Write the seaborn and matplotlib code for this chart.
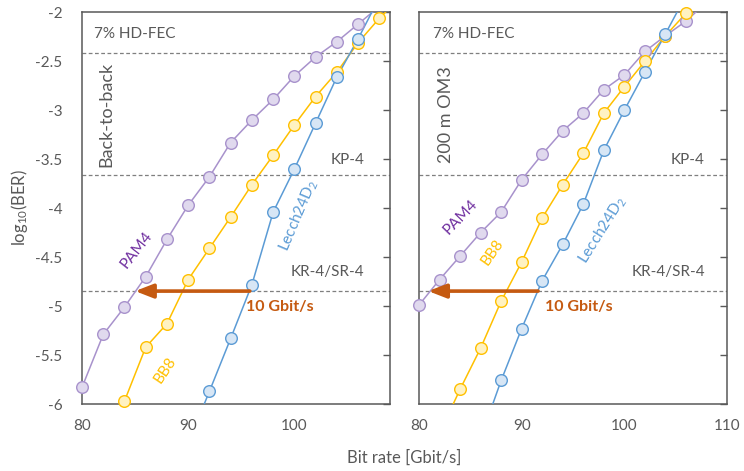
import numpy as np
import pandas as pd
import matplotlib
matplotlib.use("Agg")
import matplotlib.pyplot as plt
import seaborn as sns

# ---------------- data ----------------
rates_b2b = [80, 82, 84, 86, 88, 90, 92, 94, 96, 98, 100, 102, 104, 106, 108, 110]
pam4_b2b = [-5.83, -5.29, -5.01, -4.70, -4.32, -3.97, -3.68, -3.33, -3.10, -2.89, -2.65, -2.456, -2.30, -2.12, -1.94, None]
bb8_b2b = [None, None, -5.97, -5.42, -5.18, -4.73, -4.41, -4.09, -3.76, -3.46, -3.15, -2.86, -2.61, -2.31, -2.06, -1.85]
lecch_b2b = [None, None, None, None, None, -6.40, -5.87, -5.33, -4.78, -4.04, -3.60, -3.13, -2.66, -2.27, -1.85, None]

rates_om3 = [80, 82, 84, 86, 88, 90, 92, 94, 96, 98, 100, 102, 104, 106, 108]
pam4_om3 = [-4.99, -4.73, -4.49, -4.25, -4.04, -3.71, -3.45, -3.21, -3.03, -2.79, -2.64, -2.40, -2.24, -2.09, -1.90]
bb8_om3 = [None, -6.30, -5.85, -5.43, -4.95, -4.55, -4.10, -3.76, -3.44, -3.03, -2.76, -2.50, -2.24, -2.01, None]
lecch_om3 = [None, None, None, -6.35, -5.76, -5.23, -4.74, -4.37, -3.96, -3.41, -3.00, -2.61, -2.22, -1.83, None]

fec_levels = [-2.415, -3.657, -4.847]
fec_names = ["7% HD-FEC", "KP-4", "KR-4/SR-4"]

panel_titles = ["Back-to-back", "200 m OM3"]
xlims = [(80, 109), (80, 110)]
ylim = (-6, -2)
xticks = [80, 90, 100, 110]
yticks = [-6, -5.5, -5, -4.5, -4, -3.5, -3, -2.5, -2]

# arrow start / end (Gbit/s) on KR-4 level
arrow_start = [95.8, 91.6]
arrow_end = [85.0, 80.9]

# ---------------- style ----------------
sns.set_theme(style="white")
plt.rcParams["font.family"] = ["Lato", "DejaVu Sans"]
plt.rcParams["axes.unicode_minus"] = False
plt.rcParams["mathtext.default"] = "regular"

GRAY = "#595959"
series_style = {
    "PAM4": dict(line="#a892cc", face="#e0d9ee", edge="#a892cc", text="#7030a0"),
    "BB8": dict(line="#ffc000", face="#fff2c2", edge="#ffc000", text="#ffc000"),
    "Lecch": dict(line="#5b9bd5", face="#d7e6f5", edge="#5b9bd5", text="#5b9bd5"),
}
ORANGE = "#c55a11"

fig = plt.figure(figsize=(7.44, 4.71), dpi=100)
ax_pos = [
    [82 / 744, 1 - 404 / 471, 308 / 744, 391.7 / 471],
    [419 / 744, 1 - 404 / 471, 308 / 744, 391.7 / 471],
]

datasets = [
    (rates_b2b, {"PAM4": pam4_b2b, "BB8": bb8_b2b, "Lecch": lecch_b2b}),
    (rates_om3, {"PAM4": pam4_om3, "BB8": bb8_om3, "Lecch": lecch_om3}),
]

# curve label placement (x, y, rotation)
label_pos = [
    {"PAM4": (85.1, -4.43, 52), "BB8": (87.8, -5.65, 56), "Lecch": (100.4, -4.08, 67)},
    {"PAM4": (84.0, -4.09, 46), "BB8": (87.16, -4.45, 55), "Lecch": (97.9, -4.22, 58)},
]
label_text = {"PAM4": "PAM4", "BB8": "BB8", "Lecch": "Lecch24D$_2$"}

axes = []
for i, (rates, series) in enumerate(datasets):
    ax = fig.add_axes(ax_pos[i])
    axes.append(ax)
    xlo, xhi = xlims[i]
    for name, vals in series.items():
        st = series_style[name]
        df = pd.DataFrame({"x": rates, "y": vals}).dropna()
        sns.lineplot(data=df, x="x", y="y", ax=ax, color=st["line"], lw=1.1,
                     sort=False, estimator=None, zorder=3)
        vis = df[(df["y"] >= ylim[0] - 0.03) & (df["y"] <= ylim[1] + 0.03) &
                 (df["x"] >= xlo) & (df["x"] <= xhi)]
        sns.scatterplot(data=vis, x="x", y="y", ax=ax, s=70, color=st["face"],
                        edgecolor=st["edge"], linewidth=1.0, zorder=4, clip_on=False)
        lx, ly, rot = label_pos[i][name]
        ax.text(lx, ly, label_text[name], color=st["text"], fontsize=11,
                rotation=rot, ha="center", va="center", rotation_mode="anchor")

    for lev in fec_levels:
        ax.axhline(lev, color="#7f7f7f", lw=0.9, ls=(0, (3, 2)), zorder=2)

    ax.set_xlim(*xlims[i])
    ax.set_ylim(*ylim)
    ax.set_xticks(xticks[:3] if i == 0 else xticks)
    ax.set_yticks(yticks)
    ax.set_xlabel("")
    ax.set_ylabel("")
    ax.tick_params(axis="both", direction="in", length=5, width=1, color=GRAY,
                   labelcolor=GRAY, labelsize=11)
    ax.tick_params(axis="y", right=True, pad=14)
    ax.tick_params(axis="x", pad=11)
    ax.yaxis.set_major_formatter(matplotlib.ticker.FuncFormatter(lambda v, p: f"{v:g}"))
    if i == 1:
        ax.tick_params(axis="y", labelleft=False)
    for sp in ax.spines.values():
        sp.set_color(GRAY)
        sp.set_linewidth(1.1)
        sp.set_visible(True)

    # FEC labels
    ax.text(xlo + 1.1 if i == 0 else xlo + 1.4, -2.22, fec_names[0], color=GRAY,
            fontsize=11, ha="left", va="center")
    kx = 106.6 if i == 0 else 107.85
    ax.text(kx, -3.51, fec_names[1], color=GRAY, fontsize=11, ha="right", va="center")
    ax.text(kx, -4.65, fec_names[2], color=GRAY, fontsize=11, ha="right", va="center")

    # panel title
    ax.text(82.3 if i == 0 else 82.6, -3.04, panel_titles[i], color=GRAY, fontsize=13,
            rotation=90, ha="center", va="center")

    # arrow
    ax.annotate("", xy=(arrow_end[i], fec_levels[2]), xytext=(arrow_start[i], fec_levels[2]),
                arrowprops=dict(arrowstyle="-|>,head_length=0.9,head_width=0.35",
                                color=ORANGE, lw=2.6, shrinkA=0, shrinkB=0), zorder=5)
    ax.text(95.43 if i == 0 else 92.27, -5.01, "10 Gbit/s", color=ORANGE, fontsize=11.5,
            fontweight="bold", ha="left", va="center")

fig.text(404 / 744, 1 - 458 / 471, "Bit rate [Gbit/s]", color=GRAY, fontsize=12,
         ha="center", va="center")
fig.text(20 / 744, 1 - 208 / 471, "log$_{10}$(BER)", color=GRAY, fontsize=12,
         ha="center", va="center", rotation=90)

fig.savefig("out.png", dpi=100)
